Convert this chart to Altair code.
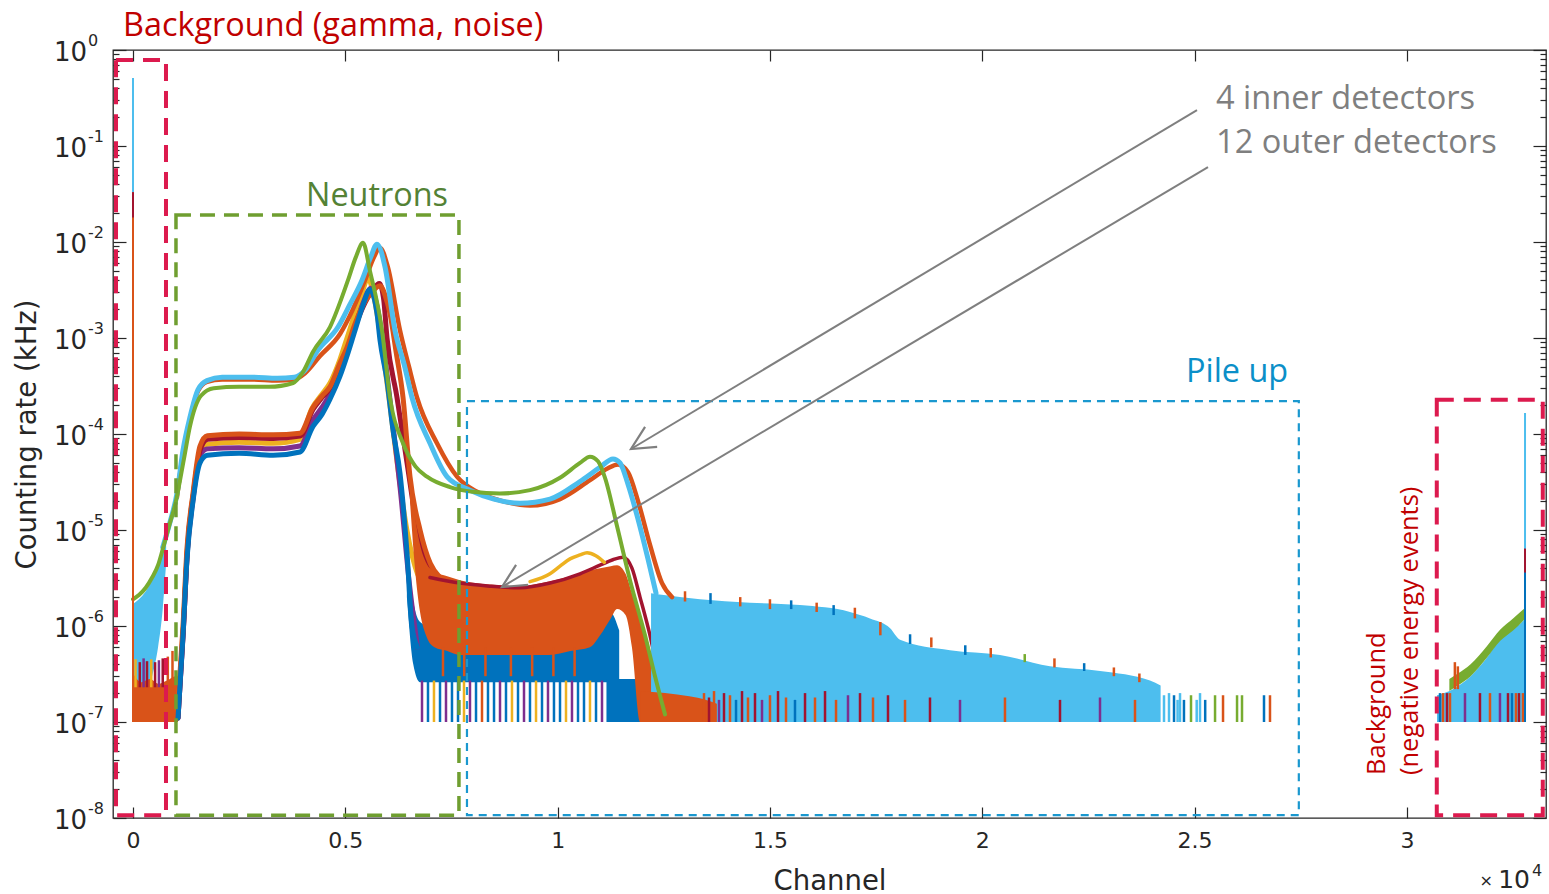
import altair as alt
import pandas as pd

# ---------------- colours (MATLAB default order) ----------------
COLORS = {"blue": "#0072BD", "orange": "#D95319", "yellow": "#EDB120", "purple": "#7E2F8E",
          "green": "#77AC30", "lblue": "#4DBEEE", "dred": "#A2142F"}

X_DOMAIN = [-471, 33276]
Y_DOMAIN = [1e-8, 1.0]
X_TICKS = [0, 5000, 10000, 15000, 20000, 25000, 30000]
Y_TICKS = [1e-8, 1e-7, 1e-6, 1e-5, 1e-4, 1e-3, 1e-2, 1e-1, 1.0]
Y_EXP = ["-8", "-7", "-6", "-5", "-4", "-3", "-2", "-1", "0"]
Y_MINOR = [m * d for d in [1e-8, 1e-7, 1e-6, 1e-5, 1e-4, 1e-3, 1e-2, 1e-1] for m in [2, 3, 4, 5, 6, 7, 8, 9]]

# ---------------- inner detectors (smooth spectra) ----------------
green_in_x = [0, 140, 300, 450, 590, 700, 850, 1000, 1200, 1342, 1600, 1900, 2500, 3200, 3770, 4000, 4240,
              4639, 5063, 5250, 5417, 5580, 5864, 6052, 6359, 6650, 6923, 7465, 8000, 8640, 9350, 10056,
              10527, 10762, 10951, 11116, 11398, 11704, 12058, 12293, 12529]
green_in_y = [1.9e-6, 2.1e-6, 2.5e-6, 3.2e-6, 4.3e-6, 6.3e-6, 1.1e-5, 1.9e-5, 5.5e-5, 1.2e-4, 2.5e-4, 3.0e-4,
              3.1e-4, 3.1e-4, 3.4e-4, 4.4e-4, 7.2e-4, 1.3e-3, 4.0e-3, 7.0e-3, 9.8e-3, 5.0e-3, 1.2e-3, 2.4e-4,
              8e-5, 4.6e-5, 3.6e-5, 2.8e-5, 2.5e-5, 2.4e-5, 2.6e-5, 3.5e-5, 5.0e-5, 5.8e-5, 5.2e-5, 3.5e-5,
              1.1e-5, 3.0e-6, 8e-7, 3e-7, 1.2e-7]

lblue_in_x = [700, 870, 1036, 1178, 1342, 1531, 1743, 2100, 2800, 3400, 3800, 4050, 4357, 4828, 5100, 5393,
              5600, 5746, 5935, 6170, 6400, 6570, 6994, 7394, 7936, 8500, 9114, 9820, 10527, 10998, 11304,
              11469, 11657, 11893, 12128, 12317]
lblue_in_y = [6.6e-6, 1.2e-5, 2.4e-5, 6.8e-5, 1.5e-4, 2.9e-4, 3.6e-4, 3.9e-4, 3.9e-4, 3.8e-4, 3.9e-4, 4.6e-4,
              7.5e-4, 1.3e-3, 2.2e-3, 4.0e-3, 7.0e-3, 9.5e-3, 5.5e-3, 1.2e-3, 5e-4, 2.4e-4, 8e-5, 3.6e-5,
              2.6e-5, 2.1e-5, 1.9e-5, 2.1e-5, 3.2e-5, 4.5e-5, 5.5e-5, 5.0e-5, 3.0e-5, 1.3e-5, 5e-6, 2.2e-6]

orange_in_x = [1036, 1178, 1342, 1531, 1743, 2100, 2800, 3400, 3800, 4050, 4404, 4875, 5180, 5464, 5676,
               5817, 6000, 6288, 6500, 6688, 7159, 7630, 8100, 8700, 9350, 10056, 10762, 11186, 11422,
               11657, 11893, 12175, 12458, 12694]
orange_in_y = [2.2e-5, 6.3e-5, 1.4e-4, 2.8e-4, 3.5e-4, 3.7e-4, 3.7e-4, 3.6e-4, 3.7e-4, 4.3e-4, 6.5e-4,
               1.1e-3, 2.0e-3, 4.0e-3, 7.0e-3, 8.7e-3, 5.5e-3, 1.2e-3, 5e-4, 2.4e-4, 8e-5, 3.6e-5, 2.5e-5,
               2.0e-5, 1.8e-5, 2.1e-5, 3.3e-5, 4.4e-5, 4.8e-5, 4.0e-5, 2.0e-5, 7e-6, 2.8e-6, 2.0e-6]

# ---------------- outer detectors (smooth spectra) ----------------
out_yellow_x = [1050, 1180, 1275, 1415, 1580, 1750, 2500, 3300, 3933, 4200, 4451, 4639, 4875, 5040, 5228,
                5400, 5533, 5680, 5850, 6050, 6250, 6450, 6700, 6950]
out_yellow_y = [1.1e-7, 9e-7, 6e-6, 2.3e-5, 6.5e-5, 7.8e-5, 8.2e-5, 8.0e-5, 8.8e-5, 1.8e-4, 2.6e-4, 3.4e-4,
                6e-4, 1e-3, 1.8e-3, 3e-3, 4.2e-3, 2.6e-3, 9e-4, 2e-4, 4e-5, 1e-5, 3.5e-6, 2.5e-6]
out_purple_x = [1060, 1180, 1275, 1415, 1580, 1750, 2500, 3300, 3933, 4239, 4451, 4639, 4875, 5040, 5228,
                5417, 5600, 5760, 5900, 6100, 6300, 6500, 6700]
out_purple_y = [1.1e-7, 8e-7, 5.5e-6, 2.1e-5, 6e-5, 7e-5, 7.2e-5, 7e-5, 7.5e-5, 1.4e-4, 1.9e-4, 2.6e-4,
                4.5e-4, 7e-4, 1.3e-3, 2.3e-3, 3.3e-3, 2e-3, 8e-4, 1.5e-4, 2.5e-5, 3e-6, 6e-7]
out_dred_x = [1060, 1190, 1285, 1425, 1590, 1760, 2500, 3300, 3933, 4239, 4451, 4639, 4875, 5040, 5228, 5417,
              5650, 5800, 5900, 5982, 6217, 6453, 6700, 6950, 7230]
out_dred_y = [1.1e-7, 1e-6, 6.5e-6, 2.4e-5, 7e-5, 8.8e-5, 9.2e-5, 9e-5, 9.5e-5, 1.8e-4, 2.4e-4, 3e-4, 5e-4,
              7.5e-4, 1.3e-3, 2.1e-3, 3.2e-3, 3.7e-3, 2.6e-3, 1e-3, 2.4e-4, 5e-5, 1e-5, 4e-6, 2.7e-6]
out_orange_x = [1040, 1178, 1272, 1413, 1578, 1750, 2500, 3300, 3933, 4239, 4451, 4639, 4875, 5040, 5228,
                5417, 5628, 5817, 5935, 6052, 6200, 6359, 6523, 6760, 7000, 7230]
out_orange_y = [1.1e-7, 1e-6, 6.5e-6, 2.4e-5, 7.5e-5, 9.6e-5, 1.0e-4, 9.8e-5, 1.02e-4, 1.9e-4, 2.5e-4,
                3.1e-4, 5.5e-4, 8e-4, 1.4e-3, 2.2e-3, 3.0e-3, 3.5e-3, 2.8e-3, 1.8e-3, 7e-4, 2.4e-4, 3.6e-5,
                1e-5, 4.5e-6, 3.2e-6]
out_blue_x = [1060, 1178, 1272, 1413, 1578, 1750, 2500, 3300, 3933, 4239, 4451, 4639, 4875, 5040, 5228, 5417,
              5580, 5746, 5817, 5982, 6123, 6288, 6450, 6570, 6700]
out_blue_y = [1.1e-7, 8e-7, 5e-6, 2e-5, 5e-5, 6e-5, 6.3e-5, 6e-5, 6.5e-5, 1.2e-4, 1.6e-4, 2.3e-4, 4e-4,
              6.5e-4, 1.2e-3, 2.2e-3, 3.2e-3, 1.8e-3, 9.5e-4, 3.6e-4, 1.1e-4, 3.9e-5, 6e-6, 1e-6, 6e-7]

# pile-up part of outer detectors
dred_pile_x = [6994, 7700, 8400, 9100, 9820, 10527, 10998, 11300, 11540, 11750, 11940, 12175, 12411]
dred_pile_y = [3.2e-6, 2.8e-6, 2.6e-6, 2.5e-6, 2.8e-6, 3.5e-6, 4.3e-6, 4.9e-6, 5.2e-6, 4e-6, 2e-6, 8e-7, 2.5e-7]
yellow_pile_x = [9350, 9820, 10056, 10292, 10527, 10692, 10900, 11100]
yellow_pile_y = [2.9e-6, 3.5e-6, 4.2e-6, 5.0e-6, 5.5e-6, 5.8e-6, 5.4e-6, 4.6e-6]

# ---------------- noisy bands (lower / upper envelope) ----------------
lb_left_x = [0, 140, 300, 450, 590, 700, 780]
lb_left_lo = [1e-7, 1.2e-7, 2e-7, 3e-7, 6e-7, 1.5e-6, 4.5e-6]
lb_left_hi = [1.7e-6, 1.9e-6, 2.3e-6, 3.0e-6, 4.0e-6, 6.0e-6, 8.5e-6]
or_left_x = [0, 200, 400, 600, 800, 1000, 1060]
or_left_lo = [1e-7, 1e-7, 1e-7, 1e-7, 1e-7, 1e-7, 1e-7]
or_left_hi = [3.2e-7, 2.6e-7, 2.8e-7, 2.5e-7, 2.7e-7, 3.0e-7, 3.0e-7]

blue_band_x = [6450, 6600, 6760, 7230, 7700, 8400, 9100, 9800, 10300, 10700, 11000, 11250, 11450]
blue_band_lo = [2e-6, 4e-7, 2.6e-7, 2.6e-7, 2.6e-7, 2.6e-7, 2.6e-7, 2.6e-7, 2.6e-7, 2.6e-7, 2.6e-7, 2.6e-7, 2.6e-7]
blue_band_hi = [6e-6, 1.8e-6, 1.1e-6, 9e-7, 9e-7, 8.5e-7, 8.5e-7, 9e-7, 1.1e-6, 1.3e-6, 1.5e-6, 1.4e-6, 9e-7]
blue_floor_x = [11150, 11950]
blue_floor_lo = [1e-7, 1e-7]
blue_floor_hi = [2.8e-7, 2.8e-7]

or_band_x = [6523, 6640, 6760, 6900, 7100, 7400, 7700, 8400, 9100, 9800, 10300, 10760, 11000, 11250, 11400,
             11600, 11750, 11940, 12175, 12400, 12550]
or_band_lo = [2e-5, 4e-6, 1.4e-6, 8e-7, 6e-7, 5.5e-7, 5e-7, 5e-7, 5e-7, 5e-7, 5.5e-7, 6e-7, 8e-7, 1.2e-6,
              1.5e-6, 1.3e-6, 6e-7, 1e-7, 1e-7, 1e-7, 1e-7]
or_band_hi = [3.6e-5, 1.4e-5, 7e-6, 4.6e-6, 3.7e-6, 3.3e-6, 3.0e-6, 2.7e-6, 2.6e-6, 2.9e-6, 3.3e-6, 3.8e-6,
              4.0e-6, 4.2e-6, 4.3e-6, 3.5e-6, 2.2e-6, 1.2e-6, 5e-7, 2e-7, 1.2e-7]

lb_tail_x = [12200, 12500, 13353, 14530, 15708, 16885, 17356, 17830, 18063, 19240, 20418, 21595, 22773,
             23950, 24200]
lb_tail_lo = [1e-7] * 15
lb_tail_hi = [2.2e-6, 2.1e-6, 1.9e-6, 1.75e-6, 1.65e-6, 1.4e-6, 1.2e-6, 9.5e-7, 7.2e-7, 5.6e-7, 5e-7,
              3.8e-7, 3.4e-7, 2.7e-7, 2.4e-7]
or_tail_x = [11950, 12529, 13100, 13500, 13750]
or_tail_lo = [1e-7, 1e-7, 1e-7, 1e-7, 1e-7]
or_tail_hi = [2.1e-7, 2.0e-7, 1.85e-7, 1.7e-7, 1.55e-7]

lb_right_x = [30709, 31086, 31500, 31887, 32300, 32711, 32782]
lb_right_lo = [1e-7] * 7
lb_right_hi = [1.9e-7, 2.2e-7, 3.0e-7, 4.7e-7, 8.5e-7, 1.1e-6, 1.2e-6]
gr_right_x = [31000, 31200, 31500, 31887, 32200, 32500, 32711, 32782]
gr_right_lo = [2.1e-7, 2.4e-7, 3.0e-7, 4.7e-7, 7e-7, 9e-7, 1.1e-6, 1.2e-6]
gr_right_hi = [2.8e-7, 3.2e-7, 4.0e-7, 6.2e-7, 9.2e-7, 1.2e-6, 1.45e-6, 1.55e-6]

# ---------------- single-channel spikes ----------------
spk_x = ([60, 160, 250, 330, 430, 520, 610, 700, 820, 930]
         + [6806, 6947, 7088, 7230, 7371, 7512, 7654, 7795, 7936, 8078, 8219, 8360, 8502, 8643, 8784, 8925,
            9067, 9208, 9349, 9491, 9632, 9773, 9914, 10056, 10197, 10338, 10480, 10621, 10762, 10904, 11045]
         + [7300, 7800, 8300, 8900, 9400, 9900, 10400]
         + [13447, 13565, 13683, 13800, 13918, 14059, 14201, 14342, 14483, 14648, 14813, 15001, 15190, 15378,
            15590, 15826, 16061, 16297, 16556, 16838, 17121, 17427, 17780, 18181, 18769, 19476, 20535, 21831,
            22773, 23597]
         + [24280, 24398, 24516, 24600, 24657, 24750, 24916, 25050, 25128, 25250, 25482, 25670, 26000, 26117,
            26635, 26776]
         + [13000, 13600, 14300, 15000, 15500, 16100, 16500, 17000, 17600, 18300, 18800, 19600, 20200, 21000,
            21700, 22400, 23100, 23700]
         + [30780, 30850, 30944, 31015, 31130, 31200, 31368, 31721, 31957, 32192, 32381, 32475, 32569, 32640,
            32734])
spk_lo = ([2.3e-7] * 10 + [1e-7] * 31 + [3e-7] * 7 + [1e-7] * 30 + [1e-7] * 16
          + [1.8e-6, 1.7e-6, 1.6e-6, 1.5e-6, 1.5e-6, 1.4e-6, 1.3e-6, 1.2e-6, 8e-7, 6.5e-7, 6e-7, 5e-7, 4.7e-7,
             4.2e-7, 3.7e-7, 3.4e-7, 3e-7, 2.6e-7]
          + [1e-7, 1e-7, 1e-7, 1e-7, 2.2e-7, 2.2e-7, 1e-7, 1e-7, 1e-7, 1e-7, 1e-7, 1e-7, 1e-7, 1e-7, 1e-7])
spk_hi = ([4.5e-7, 4.2e-7, 4.6e-7, 4.3e-7, 4.5e-7, 4.2e-7, 4.4e-7, 4.6e-7, 4.8e-7, 5.5e-7]
          + [2.7e-7] * 31 + [6e-7] * 7
          + [2.0e-7, 1.8e-7, 2.1e-7, 1.7e-7, 2.0e-7, 1.9e-7, 1.7e-7, 2.1e-7, 1.8e-7, 2.0e-7, 1.7e-7, 1.9e-7,
             2.1e-7, 1.8e-7, 1.7e-7, 2.0e-7, 1.8e-7, 2.1e-7, 1.7e-7, 1.9e-7, 2.0e-7, 1.8e-7, 1.9e-7, 1.7e-7,
             1.8e-7, 1.7e-7, 1.8e-7, 1.7e-7, 1.8e-7, 1.7e-7]
          + [1.9e-7, 2.0e-7, 1.9e-7, 1.7e-7, 2.0e-7, 1.7e-7, 1.9e-7, 1.7e-7, 2.0e-7, 1.7e-7, 1.9e-7, 1.9e-7,
             1.9e-7, 1.9e-7, 1.9e-7, 1.9e-7]
          + [2.3e-6, 2.2e-6, 2.0e-6, 1.9e-6, 1.85e-6, 1.75e-6, 1.65e-6, 1.55e-6, 1.1e-6, 8.2e-7, 7.6e-7, 6.3e-7,
             5.9e-7, 5.1e-7, 4.6e-7, 4.1e-7, 3.7e-7, 3.2e-7]
          + [2e-7, 2e-7, 2e-7, 2e-7, 4.2e-7, 3.8e-7, 2e-7, 2e-7, 2e-7, 2e-7, 2e-7, 2e-7, 2e-7, 2e-7, 2e-7])
spk_c = (["yellow", "dred", "purple", "dred", "yellow", "dred", "purple", "dred", "orange", "orange"]
         + ["purple", "blue", "yellow", "blue", "purple", "blue", "blue", "yellow", "purple", "blue", "orange",
            "blue", "blue", "purple", "blue", "yellow", "blue", "purple", "blue", "yellow", "blue", "purple",
            "blue", "blue", "yellow", "purple", "blue", "blue", "yellow", "blue", "purple"]
         + ["orange"] * 7
         + ["orange", "dred", "orange", "purple", "dred", "orange", "blue", "dred", "orange", "dred", "purple",
            "orange", "dred", "orange", "blue", "dred", "orange", "dred", "orange", "purple", "dred", "orange",
            "dred", "orange", "dred", "purple", "orange", "dred", "purple", "orange"]
         + ["lblue", "lblue", "blue", "lblue", "lblue", "blue", "green", "lblue", "lblue", "blue", "green",
            "orange", "green", "green", "blue", "orange"]
         + ["orange", "blue", "orange", "orange", "blue", "orange", "blue", "orange", "orange", "blue", "orange",
            "blue", "orange", "green", "orange", "blue", "orange", "orange"]
         + ["blue", "orange", "dred", "orange", "orange", "orange", "purple", "dred", "orange", "purple", "dred",
            "blue", "orange", "dred", "orange"])

# tall spikes at channel 0 and at the right edge
big_x = [0, 0, 0, 32782, 32782, 32782]
big_lo = [1e-7, 1e-7, 0.018, 1e-7, 1e-7, 1e-7]
big_hi = [0.51, 0.033, 0.033, 1.65e-4, 6.4e-6, 3.6e-6]
big_c = ["lblue", "orange", "dred", "lblue", "dred", "blue"]

# ---------------- annotations ----------------
box_red1 = [-400, 777, 0.787, 1.07e-8]
box_green = [1012, 7676, 0.0191, 1.07e-8]
box_blue = [7865, 27455, 2.2e-4, 1.07e-8]
box_red2 = [30704, 33200, 2.27e-4, 1.07e-8]

arrow_x1 = [25057, 25316]
arrow_y1 = [0.237, 0.0604]
arrow_x2 = [11728, 8690]
arrow_y2 = [6.98e-5, 2.55e-6]

# ---------------- chart ----------------
xs = alt.Scale(domain=X_DOMAIN, nice=False, zero=False)
ys = alt.Scale(type="log", domain=Y_DOMAIN, nice=False)
cscale = alt.Scale(domain=list(COLORS.keys()), range=list(COLORS.values()))
AX = "#262626"


def FX():
    return alt.X("x:Q", scale=xs, axis=None)


def FY():
    return alt.Y("y:Q", scale=ys, axis=None)


def line(xv, yv, color, width=5.0):
    df = pd.DataFrame({"x": xv, "y": yv})
    return alt.Chart(df).mark_line(color=color, strokeWidth=width, strokeJoin="round", interpolate="monotone",
                                   strokeCap="round", clip=True).encode(x=FX(), y=FY())


def band(xv, lo, hi, color):
    df = pd.DataFrame({"x": xv, "y": hi, "y2": lo})
    return alt.Chart(df).mark_area(color=color, opacity=1, clip=True, interpolate="monotone").encode(
        x=FX(), y=FY(), y2="y2:Q")


def rules(xv, lo, hi, cols, width):
    df = pd.DataFrame({"x": xv, "y": hi, "y2": lo, "c": cols})
    return alt.Chart(df).mark_rule(strokeWidth=width, clip=True).encode(
        x=FX(), y=FY(), y2="y2:Q", color=alt.Color("c:N", scale=cscale, legend=None))


def box(b, color, width, dash):
    df = pd.DataFrame({"x": [b[0]], "x2": [b[1]], "y": [b[2]], "y2": [b[3]]})
    return alt.Chart(df).mark_rect(fillOpacity=0, stroke=color, strokeWidth=width, strokeDash=dash).encode(
        x=FX(), x2="x2:Q", y=FY(), y2="y2:Q")


def text(x, y, s, color, size, align="left", angle=0, font="Open Sans"):
    df = pd.DataFrame({"x": [x], "y": [y], "t": [s]})
    return alt.Chart(df).mark_text(color=color, fontSize=size, font=font, align=align, angle=angle,
                                   baseline="alphabetic").encode(x=FX(), y=FY(), text="t:N")


def px_text(s, xpx, ypx, size, align):
    return alt.Chart(pd.DataFrame({"t": [s]})).mark_text(
        font="DejaVu Sans", fontSize=size, color=AX, align=align, baseline="alphabetic").encode(
        x=alt.value(xpx), y=alt.value(ypx), text="t:N")


layers = []
# left background region
layers.append(band(lb_left_x, lb_left_lo, lb_left_hi, COLORS["lblue"]))
layers.append(band(or_left_x, or_left_lo, or_left_hi, COLORS["orange"]))
# outer detectors
layers.append(band(blue_band_x, blue_band_lo, blue_band_hi, COLORS["blue"]))
layers.append(band(blue_floor_x, blue_floor_lo, blue_floor_hi, COLORS["blue"]))
layers.append(line(out_yellow_x, out_yellow_y, COLORS["yellow"]))
layers.append(line(out_purple_x, out_purple_y, COLORS["purple"]))
layers.append(line(out_dred_x, out_dred_y, COLORS["dred"]))
layers.append(line(out_orange_x, out_orange_y, COLORS["orange"]))
layers.append(line(out_blue_x, out_blue_y, COLORS["blue"]))
layers.append(band(or_band_x, or_band_lo, or_band_hi, COLORS["orange"]))
layers.append(line(dred_pile_x, dred_pile_y, COLORS["dred"], 3.5))
layers.append(line(yellow_pile_x, yellow_pile_y, COLORS["yellow"], 3.5))
# tail of inner detectors
layers.append(band(lb_tail_x, lb_tail_lo, lb_tail_hi, COLORS["lblue"]))
layers.append(band(or_tail_x, or_tail_lo, or_tail_hi, COLORS["orange"]))
# right background region
layers.append(band(lb_right_x, lb_right_lo, lb_right_hi, COLORS["lblue"]))
layers.append(band(gr_right_x, gr_right_lo, gr_right_hi, COLORS["green"]))
layers.append(rules(spk_x, spk_lo, spk_hi, spk_c, 2.5))
# inner detectors
layers.append(line(orange_in_x, orange_in_y, COLORS["orange"], 4.5))
layers.append(line(lblue_in_x, lblue_in_y, COLORS["lblue"], 5.0))
layers.append(line(green_in_x, green_in_y, COLORS["green"], 4.0))
layers.append(rules(big_x, big_lo, big_hi, big_c, 2.0))

# dashed boxes
RED = "#DC1A4E"
layers.append(box(box_red1, RED, 4, [17, 10]))
layers.append(box(box_green, "#6F9E30", 3.5, [15, 9]))
layers.append(box(box_blue, "#1A98CF", 2.2, [8, 6]))
layers.append(box(box_red2, RED, 4, [17, 10]))

# arrows
arr = pd.DataFrame({"x": arrow_x1, "y": arrow_y1, "x2": arrow_x2, "y2": arrow_y2})
layers.append(alt.Chart(arr).mark_rule(color="#7F7F7F", strokeWidth=2).encode(
    x=FX(), y=FY(), x2="x2:Q", y2="y2:Q"))
heads = pd.DataFrame({"x": arrow_x2, "y": arrow_y2})
layers.append(alt.Chart(heads).mark_point(shape="M -1 -0.5 L 0 0 L -1 0.5", filled=False, size=2200,
                                          strokeWidth=2.2, color="#7F7F7F", opacity=1, angle=149).encode(
    x=FX(), y=FY()))

# annotation texts
layers.append(text(-235, 1.4, "Background (gamma, noise)", "#C00000", 32.4))
layers.append(text(5746, 0.0237, "Neutrons", "#548235", 32.4, align="center"))
layers.append(text(24798, 3.48e-4, "Pile up", "#0B8FC8", 32.4))
layers.append(text(25505, 0.243, "4 inner detectors", "#7F7F7F", 32.6))
layers.append(text(25505, 0.0846, "12 outer detectors", "#7F7F7F", 32.6))
layers.append(text(29485, 2.8e-8, "Background", "#C00000", 25.5, angle=270))
layers.append(text(30262, 2.8e-8, "(negative energy events)", "#C00000", 25.5, angle=270))

# y tick labels: "10" with a raised exponent
ylab = pd.DataFrame({"y": Y_TICKS, "e": Y_EXP})
layers.append(alt.Chart(ylab).mark_text(font="DejaVu Sans", fontSize=26, color=AX, align="right",
                                        baseline="middle", dy=3).encode(
    x=alt.value(-26), y=FY(), text=alt.value("10")))
layers.append(alt.Chart(ylab).mark_text(font="DejaVu Sans", fontSize=16, color=AX, align="left",
                                        baseline="middle", dy=-9).encode(
    x=alt.value(-25), y=FY(), text="e:N"))

# exponent label of the x axis
layers.append(px_text("\u00d7", 1380, 836, 16, "right"))
layers.append(px_text("10", 1417, 838, 25, "right"))
layers.append(px_text("4", 1419, 826, 16, "left"))

# ---------------- axes (labels + inward ticks) ----------------
carrier = pd.DataFrame({"x": [0.0], "y": [1e-4]})


def carrier_layer(xaxis, yaxis):
    return alt.Chart(carrier).mark_point(opacity=0).encode(
        x=alt.X("x:Q", scale=xs, axis=xaxis), y=alt.Y("y:Q", scale=ys, axis=yaxis))


x_lab = alt.Axis(orient="bottom", values=X_TICKS, labelExpr="'' + datum.value / 10000", ticks=False,
                 tickSize=0, domain=False, grid=False, labelFont="DejaVu Sans", labelFontSize=22,
                 labelColor=AX, labelPadding=12, labelFlush=False, labelOverlap=False, title="Channel",
                 titleFont="DejaVu Sans", titleFontSize=27.5, titleFontWeight="normal", titleColor=AX,
                 titleY=71, titleBaseline="alphabetic")
y_lab = alt.Axis(orient="left", values=Y_TICKS, labels=False, ticks=False, tickSize=0, domain=False,
                 grid=False, title="Counting rate (kHz)", titleFont="DejaVu Sans", titleFontSize=27.5,
                 titleFontWeight="normal", titleColor=AX, titleAngle=270, titleX=-78, titleY=384,
                 titleAlign="center", titleBaseline="alphabetic")


def tick_axis(orient, values, size):
    return alt.Axis(orient=orient, values=values, labels=False, domain=False, grid=False, ticks=True,
                    tickSize=size, offset=-size, tickColor=AX, tickWidth=1.2, title=None)


layers.append(carrier_layer(x_lab, y_lab))
layers.append(carrier_layer(tick_axis("bottom", X_TICKS, 11), tick_axis("left", Y_TICKS, 13)))
layers.append(carrier_layer(tick_axis("top", X_TICKS, 11), tick_axis("right", Y_TICKS, 13)))
layers.append(carrier_layer(None, tick_axis("left", Y_MINOR, 6)))
layers.append(carrier_layer(None, tick_axis("right", Y_MINOR, 6)))

chart = alt.layer(*layers).resolve_axis(x="independent", y="independent").properties(
    width=1433, height=768,
    padding={"left": 113, "top": 50, "right": 3, "bottom": 76},
    autosize=alt.AutoSizeParams(type="none"),
    background="white",
).configure_view(stroke=AX, strokeWidth=1.3)

chart.save("out.html", embed_options={"renderer": "svg", "actions": False})
